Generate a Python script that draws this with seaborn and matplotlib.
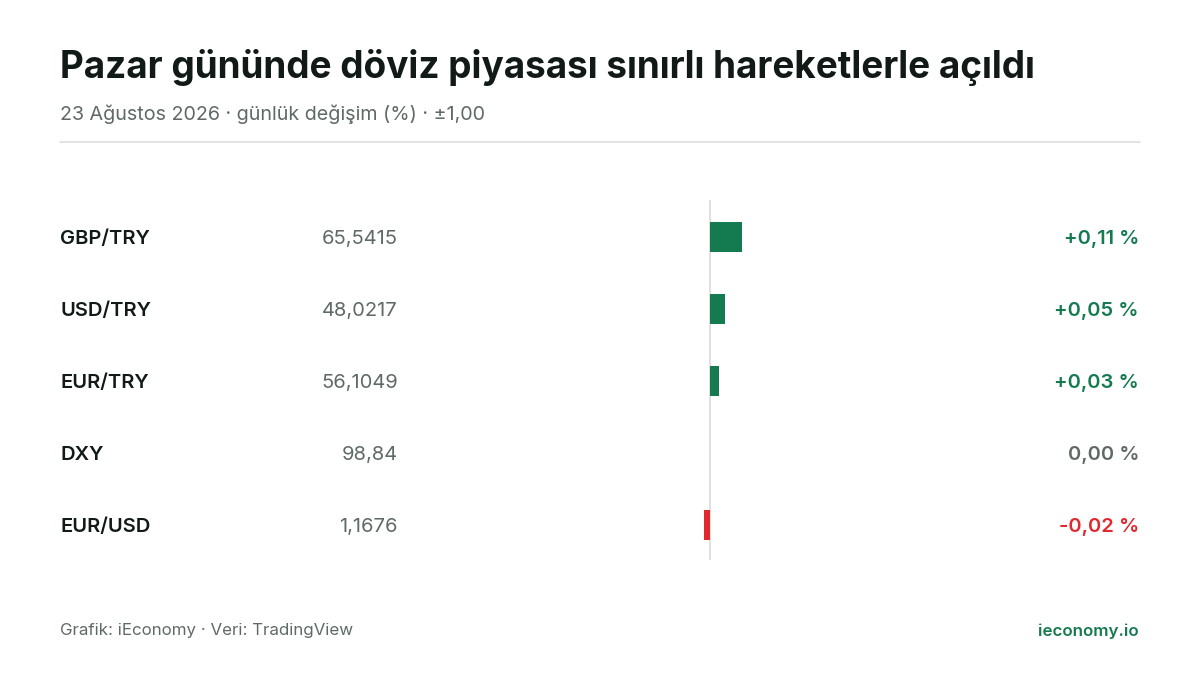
import matplotlib.pyplot as plt
import seaborn as sns
import pandas as pd

pairs = ['GBP/TRY', 'USD/TRY', 'EUR/TRY', 'DXY', 'EUR/USD']
prices = ['65,5415', '48,0217', '56,1049', '98,84', '1,1676']
changes = [0.11, 0.05, 0.03, 0.00, -0.02]
labels = ['+0,11 %', '+0,05 %', '+0,03 %', '0,00 %', '-0,02 %']

GREEN = '#147a4f'
RED = '#e0282e'
GREY = '#5f6a66'
DARK = '#111a17'

sns.set_theme(style='white')
plt.rcParams['font.family'] = ['Inter', 'DejaVu Sans']

df = pd.DataFrame({'pair': pairs, 'change': changes})
df['color'] = ['pos' if c > 0 else ('neg' if c < 0 else 'zero') for c in changes]

fig = plt.figure(figsize=(12, 6.75), dpi=100)
W, H = 1200, 675

ax = fig.add_axes([420 / W, 1 - 560 / H, 580 / W, 360 / H])
ax.axvline(0, color='#d9dcdb', lw=1.2, zorder=0)
sns.barplot(data=df, x='change', y='pair', hue='color', orient='h',
            palette={'pos': GREEN, 'neg': RED, 'zero': GREY},
            width=0.42, saturation=1, linewidth=0, legend=False, ax=ax)
ax.set_xlim(-1, 1)
ax.set_ylim(4.486, -0.514)
ax.axis('off')

fig.text(60 / W, 1 - 68 / H, 'Pazar gününde döviz piyasası sınırlı hareketlerle açıldı',
         fontsize=26.6, fontweight='bold', color=DARK, va='center')
fig.text(60 / W, 1 - 114 / H, '23 Ağustos 2026 · günlük değişim (%) · ±1,00',
         fontsize=14.2, color=GREY, va='center')
fig.add_artist(plt.Line2D([60 / W, 1140 / W], [1 - 142 / H] * 2, color='#dcdfde', lw=1.2))

for i, (p, pr, c, lab) in enumerate(zip(pairs, prices, changes, labels)):
    y = 1 - (239 + 72 * i) / H
    col = GREEN if c > 0 else (RED if c < 0 else GREY)
    fig.text(60 / W, y, p, fontsize=14.5, fontweight='semibold', color=DARK, va='center')
    fig.text(398 / W, y, pr, fontsize=14.5, color=GREY, va='center', ha='right')
    fig.text(1139 / W, y, lab, fontsize=14.5, fontweight='semibold', color=col, va='center', ha='right')

fig.text(60 / W, 1 - 631 / H, 'Grafik: iEconomy · Veri: TradingView',
         fontsize=12.2, color=GREY, va='center')
fig.text(1139 / W, 1 - 631 / H, 'ieconomy.io', fontsize=12.2, fontweight='semibold',
         color=GREEN, va='center', ha='right')

fig.savefig('out.png', dpi=100, facecolor='white')
